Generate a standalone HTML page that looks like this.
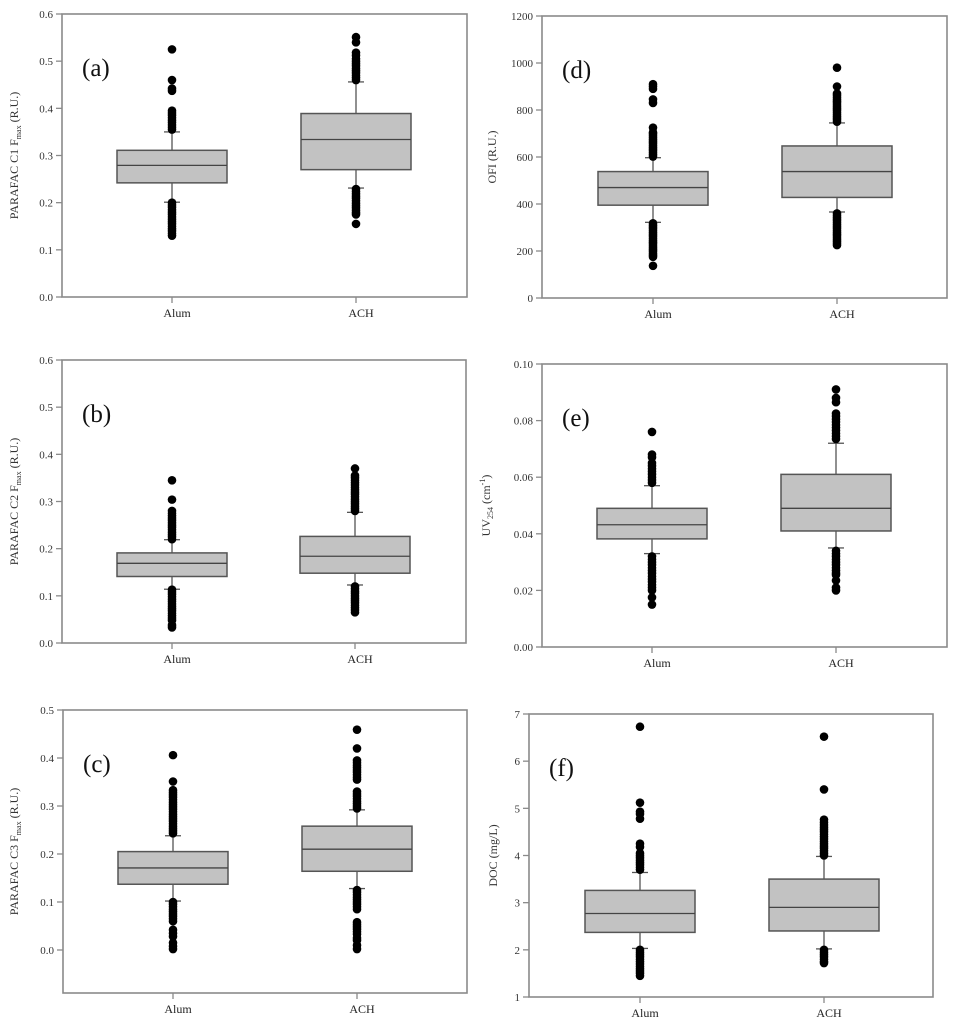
<!DOCTYPE html>
<html><head><meta charset="utf-8"><style>
body{margin:0;background:#fff}
svg{display:block;font-family:"Liberation Serif",serif}
</style></head><body>
<svg id="fig" width="959" height="1024" viewBox="0 0 959 1024" xmlns="http://www.w3.org/2000/svg"></svg>
<script>
const categories = ["Alum","ACH"];
// panel (a)
const aStats = [[0.201,0.242,0.279,0.311,0.350],[0.231,0.270,0.334,0.389,0.456]];
const aOutAlum = [0.525,0.46,0.442,0.437,0.395,0.39,0.385,0.38,0.375,0.37,0.365,0.36,0.355,0.2,0.195,0.19,0.185,0.18,0.175,0.17,0.165,0.16,0.155,0.15,0.145,0.14,0.135,0.13];
const aOutACH = [0.551,0.54,0.518,0.512,0.505,0.5,0.495,0.49,0.485,0.48,0.475,0.47,0.465,0.46,0.229,0.224,0.219,0.214,0.209,0.204,0.199,0.194,0.189,0.184,0.179,0.175,0.155];
const aTicks = [0,0.1,0.2,0.3,0.4,0.5,0.6];
// panel (b)
const bStats = [[0.114,0.141,0.169,0.191,0.219],[0.123,0.148,0.184,0.226,0.277]];
const bOutAlum = [0.345,0.304,0.28,0.275,0.27,0.265,0.26,0.255,0.25,0.245,0.24,0.235,0.23,0.225,0.22,0.113,0.108,0.103,0.098,0.093,0.088,0.083,0.078,0.073,0.068,0.063,0.058,0.053,0.048,0.038,0.033];
const bOutACH = [0.37,0.355,0.35,0.345,0.34,0.335,0.33,0.325,0.32,0.315,0.31,0.305,0.3,0.295,0.29,0.285,0.28,0.12,0.115,0.11,0.105,0.1,0.095,0.09,0.085,0.08,0.075,0.07,0.065];
const bTicks = [0,0.1,0.2,0.3,0.4,0.5,0.6];
// panel (c)
const cStats = [[0.102,0.137,0.171,0.205,0.238],[0.128,0.164,0.210,0.258,0.292]];
const cOutAlum = [0.406,0.351,0.333,0.328,0.323,0.318,0.313,0.308,0.303,0.298,0.293,0.288,0.283,0.278,0.273,0.268,0.263,0.258,0.253,0.248,0.243,0.1,0.095,0.09,0.085,0.08,0.075,0.07,0.065,0.06,0.042,0.035,0.028,0.015,0.008,0.002];
const cOutACH = [0.459,0.42,0.395,0.39,0.385,0.38,0.375,0.37,0.365,0.36,0.355,0.33,0.325,0.32,0.315,0.31,0.305,0.3,0.295,0.125,0.12,0.115,0.11,0.105,0.1,0.095,0.09,0.085,0.058,0.053,0.048,0.043,0.038,0.033,0.025,0.02,0.01,0.002];
const cTicks = [0,0.1,0.2,0.3,0.4,0.5];
// panel (d)
const dStats = [[322,395,470,538,597],[366,428,538,647,745]];
const dOutAlum = [910,900,890,845,830,725,705,698,690,682,674,666,658,650,642,634,626,618,610,602,318,310,302,294,286,278,270,262,254,246,238,230,222,214,206,198,190,182,175,137];
const dOutACH = [980,900,870,862,854,846,838,830,822,814,806,798,790,782,774,766,758,750,360,352,344,336,328,320,312,304,296,288,280,272,264,256,248,240,232,225];
const dTicks = [0,200,400,600,800,1000,1200];
// panel (e)
const eStats = [[0.033,0.0382,0.0432,0.049,0.057],[0.035,0.041,0.049,0.061,0.072]];
const eOutAlum = [0.076,0.068,0.067,0.065,0.064,0.063,0.062,0.061,0.06,0.059,0.058,0.032,0.031,0.03,0.029,0.028,0.027,0.026,0.025,0.024,0.023,0.022,0.021,0.02,0.0175,0.015];
const eOutACH = [0.091,0.088,0.0865,0.0825,0.0815,0.0805,0.0795,0.0785,0.0775,0.0765,0.0755,0.0745,0.0735,0.034,0.033,0.032,0.031,0.03,0.029,0.028,0.027,0.026,0.0255,0.0235,0.021,0.020];
const eTicks = [0,0.02,0.04,0.06,0.08,0.10];
// panel (f)
const fStats = [[2.03,2.37,2.77,3.26,3.64],[2.02,2.40,2.90,3.50,3.98]];
const fOutAlum = [6.73,5.12,4.93,4.88,4.78,4.25,4.18,4.05,4.0,3.95,3.9,3.85,3.8,3.75,3.7,2.0,1.95,1.9,1.85,1.8,1.75,1.7,1.65,1.6,1.55,1.5,1.45];
const fOutACH = [6.52,5.4,4.76,4.7,4.65,4.6,4.55,4.5,4.45,4.4,4.35,4.3,4.25,4.2,4.15,4.1,4.05,4.0,2.0,1.95,1.9,1.85,1.8,1.75,1.72];
const fTicks = [1,2,3,4,5,6,7];

const NS="http://www.w3.org/2000/svg";
const svg=document.getElementById('fig');
function mk(tag,attrs,parent){const e=document.createElementNS(NS,tag);for(const k in attrs)e.setAttribute(k,attrs[k]);(parent||svg).appendChild(e);return e;}

const panels=[
 {id:'a',x0:62,x1:467,yTop:14,yBot:297,min:0,max:0.6,cx:[172,356],stats:aStats,outs:[aOutAlum,aOutACH],ticks:aTicks,dec:1,title:[['PARAFAC C1 F',0],['max',1],[' (R.U.)',0]],tx:18},
 {id:'b',x0:62,x1:466,yTop:360,yBot:643,min:0,max:0.6,cx:[172,355],stats:bStats,outs:[bOutAlum,bOutACH],ticks:bTicks,dec:1,title:[['PARAFAC C2 F',0],['max',1],[' (R.U.)',0]],tx:18},
 {id:'c',x0:63,x1:467,yTop:710,yBot:993,min:-0.0896,max:0.5,cx:[173,357],stats:cStats,outs:[cOutAlum,cOutACH],ticks:cTicks,dec:1,title:[['PARAFAC C3 F',0],['max',1],[' (R.U.)',0]],tx:18},
 {id:'d',x0:542,x1:947,yTop:16,yBot:298,min:0,max:1200,cx:[653,837],stats:dStats,outs:[dOutAlum,dOutACH],ticks:dTicks,dec:0,title:[['OFI (R.U.)',0]],tx:496},
 {id:'e',x0:542,x1:947,yTop:364,yBot:647,min:0,max:0.10,cx:[652,836],stats:eStats,outs:[eOutAlum,eOutACH],ticks:eTicks,dec:2,title:[['UV',0],['254',1],[' (cm',0],['-1',2],[')',0]],tx:490},
 {id:'f',x0:529,x1:933,yTop:714,yBot:997,min:1,max:7,cx:[640,824],stats:fStats,outs:[fOutAlum,fOutACH],ticks:fTicks,dec:0,title:[['DOC (mg/L)',0]],tx:497}
];

panels.forEach(p=>{
 const g=mk('g',{});
 
 
 const y=v=>p.yBot-(v-p.min)/(p.max-p.min)*(p.yBot-p.yTop);
 const fr=mk('rect',{x:p.x0,y:p.yTop,width:p.x1-p.x0,height:p.yBot-p.yTop,fill:'none',stroke:'#8a8a8a','stroke-width':1.6},g);
 
 
 p.ticks.forEach(t=>{
  const yy=y(t);
  const tl=mk('line',{x1:p.x0-6,x2:p.x0,y1:yy,y2:yy,stroke:'#8a8a8a','stroke-width':1.3},g);
  
  
  const tx=mk('text',{x:p.x0-9,y:yy+4,'text-anchor':'end','font-size':11,fill:'#333'},g);
  tx.textContent=t.toFixed(p.dec);
  
  
 });
 // y title
 const ty=(p.yTop+p.yBot)/2;
 const tt=mk('text',{x:0,y:0,transform:`translate(${p.tx},${ty}) rotate(-90)`,'text-anchor':'middle','font-size':12,fill:'#333'},g);
 
 
 p.title.forEach(s=>{const ts=mk('tspan',{},tt);ts.textContent=s[0];
  if(s[1]===1){ts.setAttribute('font-size',8);ts.setAttribute('dy',3);}
  else if(s[1]===2){ts.setAttribute('font-size',8);ts.setAttribute('dy',-5);}
  else if(ts.previousSibling&&ts.previousSibling.getAttribute&&ts.previousSibling.getAttribute('dy')){ts.setAttribute('dy',-parseFloat(ts.previousSibling.getAttribute('dy')));}
 });
 // panel letter
 const pl=mk('text',{x:p.x0+20,y:p.yTop+62,'font-size':25,fill:'#111'},g);
 pl.textContent='('+p.id+')';
 
 
 categories.forEach((c,i)=>{
  const cx=p.cx[i], s=p.stats[i];
  const xt=mk('line',{x1:cx,x2:cx,y1:p.yBot,y2:p.yBot+6,stroke:'#8a8a8a','stroke-width':1.3},g);
  
  
  const xl=mk('text',{x:cx+5,y:p.yBot+20,'text-anchor':'middle','font-size':12,fill:'#222'},g);
  xl.textContent=c;
  
  
  const wl=mk('line',{x1:cx,x2:cx,y1:y(s[0]),y2:y(s[4]),stroke:'#555','stroke-width':1.3},g);
  
  
  [s[0],s[4]].forEach(v=>{const cap=mk('line',{x1:cx-8,x2:cx+8,y1:y(v),y2:y(v),stroke:'#555','stroke-width':1.3},g);
   
   });
  const bx=mk('rect',{x:cx-55,y:y(s[3]),width:110,height:y(s[1])-y(s[3]),fill:'#c2c2c2',stroke:'#555','stroke-width':1.5},g);
  
  
  const md=mk('line',{x1:cx-55,x2:cx+55,y1:y(s[2]),y2:y(s[2]),stroke:'#444','stroke-width':1.3},g);
  
  
  p.outs[i].forEach(v=>{const d=mk('circle',{cx:cx,cy:y(v),r:4.3,fill:'#000'},g);
   
   });
 });
});
</script>
</body></html>
